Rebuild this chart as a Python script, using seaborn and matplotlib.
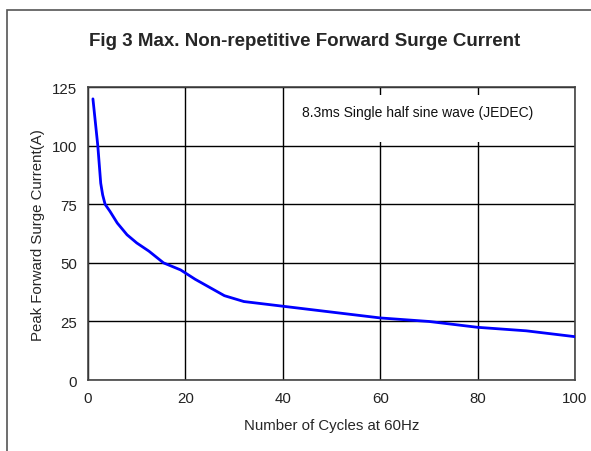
import matplotlib.pyplot as plt
from matplotlib.patches import Rectangle
import pandas as pd
import seaborn as sns

cycles = [1, 2, 2.6, 3, 3.5, 4.5, 6, 8, 10, 12.5, 15.5, 19, 22, 25, 28, 32,
          40, 50, 60, 70, 80, 90, 100]
current = [120, 100, 84, 79, 75, 72, 67, 62, 58.5, 55, 50, 47, 43, 39.5, 36,
           33.5, 31.5, 29, 26.5, 25, 22.5, 21, 18.5]
xticks = [0, 20, 40, 60, 80, 100]
yticks = [0, 25, 50, 75, 100, 125]

sns.set_style('white')
plt.rcParams['font.family'] = ['Liberation Sans', 'DejaVu Sans']

df = pd.DataFrame({'cycles': cycles, 'current': current})

fig = plt.figure(figsize=(5.91, 4.52), dpi=100)
ax = fig.add_axes([0.149, 0.157, 0.824, 0.648])

# outer frame of the figure
fig.patches.append(Rectangle((7 / 591, -0.1), 1.2, 1.1 - 11.0 / 452,
                             transform=fig.transFigure, fill=False,
                             edgecolor='#555555', linewidth=1.2))

sns.lineplot(x='cycles', y='current', data=df, ax=ax, color='#0000ff',
             linewidth=2, zorder=5)

ax.set_xlim(0, 100)
ax.set_ylim(0, 125)
ax.set_xticks(xticks)
ax.set_yticks(yticks)
ax.tick_params(length=0, labelsize=10.8, pad=8, colors='#222222')
ax.grid(True, color='black', linewidth=1)
for s in ax.spines.values():
  s.set_color('#444444')
  s.set_linewidth(1.2)

# white box under the annotation hides the grid
ax.add_patch(Rectangle((42, 101.5), 57, 20, facecolor='white',
                       edgecolor='none', zorder=3))
ax.text(44, 114.3, '8.3ms Single half sine wave (JEDEC)', fontsize=10,
        va='center', ha='left', zorder=4, color='#111111')

ax.set_xlabel('Number of Cycles at 60Hz', fontsize=10.8, labelpad=9)
ax.set_ylabel('Peak Forward Surge Current(A)', fontsize=10.8, labelpad=5)
fig.text(0.516, 0.909, 'Fig 3 Max. Non-repetitive Forward Surge Current',
         ha='center', va='center', fontsize=13.5, fontweight='bold')

plt.savefig('out.png', dpi=100)
